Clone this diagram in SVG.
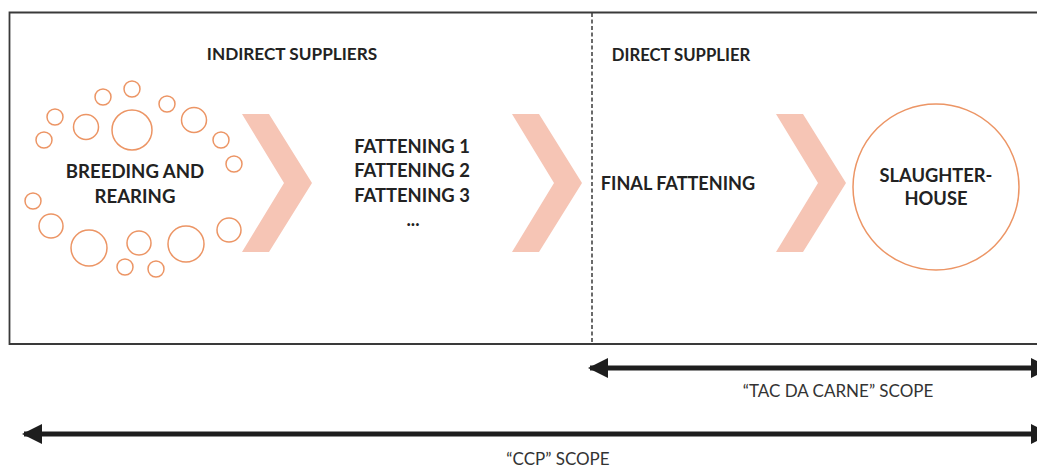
<svg xmlns="http://www.w3.org/2000/svg" width="1037" height="467" viewBox="0 0 1037 467">
<style>
.t{font-family:Lato,"Liberation Sans",sans-serif;font-weight:bold;fill:#222;text-anchor:middle}
.s{font-family:Lato,"Liberation Sans",sans-serif;fill:#333;text-anchor:middle;font-size:17px}
.c{fill:none;stroke:#EC9565;stroke-width:1.5}
.ch{fill:#F6C5B5}
.ar{stroke:#1e1e1e;stroke-width:5;fill:none}
</style>
<defs>
<marker id="ah" viewBox="0 0 10 10" refX="9" refY="5" markerWidth="4.2" markerHeight="4" markerUnits="strokeWidth" orient="auto-start-reverse">
<path d="M0,0 L10,5 L0,10 Z" fill="#1e1e1e"/>
</marker>
<polygon id="chev" points="0,0 27,0 70,69 27,138 0,138 42,69"/>
</defs>
<g id="frame">
<path d="M1037,12.5 H9.5 V344 H1037" fill="none" stroke="#3a3a3a" stroke-width="1.8"/>
<line x1="592" y1="13" x2="592" y2="344" stroke="#3a3a3a" stroke-width="1.5" stroke-dasharray="4,2.5"/>
</g>
<g id="breeding">
<circle class="c" cx="132" cy="89" r="8"/>
<circle class="c" cx="103" cy="97" r="8"/>
<circle class="c" cx="167" cy="104" r="8"/>
<circle class="c" cx="55" cy="117" r="8"/>
<circle class="c" cx="132" cy="130" r="20"/>
<circle class="c" cx="86" cy="127" r="12.5"/>
<circle class="c" cx="194" cy="120" r="12.5"/>
<circle class="c" cx="44" cy="140" r="8"/>
<circle class="c" cx="221" cy="140" r="8"/>
<circle class="c" cx="234" cy="164" r="8"/>
<circle class="c" cx="33" cy="201" r="8"/>
<circle class="c" cx="51" cy="226" r="12"/>
<circle class="c" cx="89" cy="248" r="18"/>
<circle class="c" cx="139" cy="243" r="12"/>
<circle class="c" cx="186" cy="244" r="18"/>
<circle class="c" cx="229" cy="230" r="12"/>
<circle class="c" cx="125" cy="267" r="8"/>
<circle class="c" cx="156" cy="269" r="8"/>
<text class="t" x="135" y="178" font-size="18.6">BREEDING AND</text>
<text class="t" x="135" y="203" font-size="18.6">REARING</text>
</g>
<g id="indirect-label"><text class="t" x="292" y="60" font-size="17.2">INDIRECT SUPPLIERS</text></g>
<g id="direct-label"><text class="t" x="681" y="61" font-size="16.7">DIRECT SUPPLIER</text></g>
<g id="chevron1"><use href="#chev" class="ch" x="242" y="114"/></g>
<g id="fattening">
<text class="t" x="412" y="153" font-size="18.4">FATTENING 1</text>
<text class="t" x="412" y="177" font-size="18.4">FATTENING 2</text>
<text class="t" x="412" y="202" font-size="18.4">FATTENING 3</text>
<text class="t" x="413" y="226" font-size="18.4">...</text>
</g>
<g id="chevron2"><use href="#chev" class="ch" x="512" y="114"/></g>
<g id="final"><text class="t" x="678" y="190" font-size="18.1">FINAL FATTENING</text></g>
<g id="chevron3"><use href="#chev" class="ch" x="776" y="114"/></g>
<g id="slaughterhouse">
<circle class="c" cx="936" cy="187" r="83"/>
<text class="t" x="936" y="182" font-size="18.3">SLAUGHTER-</text>
<text class="t" x="936" y="205" font-size="18.3">HOUSE</text>
</g>
<g id="connectors">
<line class="ar" x1="590" y1="368" x2="1049" y2="368" marker-start="url(#ah)" marker-end="url(#ah)"/>
<line class="ar" x1="24" y1="434" x2="1049" y2="434" marker-start="url(#ah)" marker-end="url(#ah)"/>
</g>
<g id="scope-labels">
<text class="s" x="838" y="397">“TAC DA CARNE” SCOPE</text>
<text class="s" x="558" y="465">“CCP” SCOPE</text>
</g>
</svg>
